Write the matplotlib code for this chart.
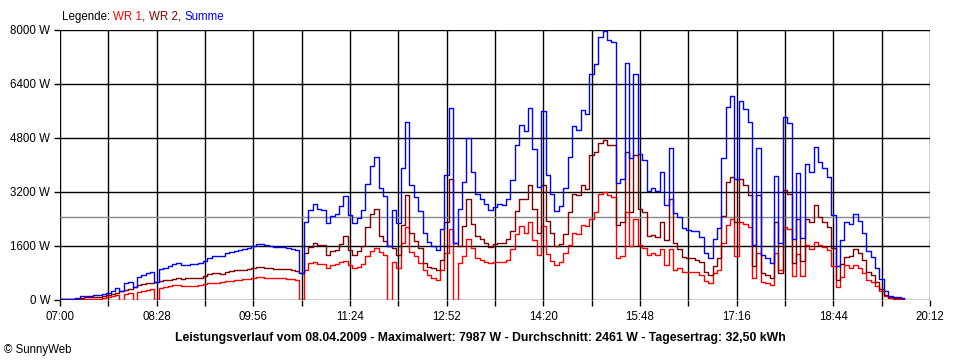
import numpy as np
import matplotlib
matplotlib.use("Agg")
import matplotlib.pyplot as plt

# minutes after 07:00, sampled every 4 minutes
start_min = 0
step_min = 4

wr1 = [20, 20, 20, 20, 20, 35, 40, 40, 40, 40,
       60, 80, 110, 150, 0, 190, 210, 0, 240, 280,
       300, 315, 0, 350, 375, 405, 430, 445, 405, 405,
       405, 420, 435, 470, 490, 500, 500, 520, 550, 565,
       580, 600, 615, 625, 640, 680, 670, 660, 650, 650,
       650, 640, 630, 620, 600, 0, 900, 1085, 1135, 1070,
       1060, 950, 1030, 1070, 1130, 1170, 1040, 940, 990, 1080,
       1290, 1440, 1530, 1420, 1330, 0, 1135, 950, 1680, 2170,
       1430, 1300, 1085, 890, 740, 660, 600, 900, 1400, 2100,
       0, 1085, 1300, 1800, 1550, 1235, 1185, 1135, 1100, 1120,
       1135, 1135, 1200, 1500, 1950, 2200, 2000, 2300, 1780, 1335,
       2200, 1350, 1150, 1040, 1135, 1380, 1630, 2000, 1950, 2220,
       2200, 2400, 2600, 3150, 3210, 3100, 3060, 1235, 1300, 2620,
       1600, 2400, 1630, 1550, 1335, 1385, 1335, 1500, 1040, 1500,
       890, 950, 840, 840, 820, 840, 740, 560, 500, 800,
       890, 1700, 2220, 2400, 1300, 2300, 2250, 2170, 640, 1400,
       540, 490, 445, 1380, 900, 2170, 2100, 700, 1350, 700,
       1630, 1500, 1730, 1630, 1580, 1480, 1000, 400, 690, 1040,
       950, 1040, 950, 790, 600, 530, 420, 280, 110, 50,
       40, 30, 20]

wr2 = [20, 20, 20, 20, 25, 70, 75, 85, 95, 100,
       120, 140, 165, 215, 260, 300, 330, 380, 440, 475,
       495, 515, 530, 575, 585, 600, 630, 650, 620, 640,
       650, 650, 665, 700, 765, 790, 790, 770, 830, 860,
       880, 880, 890, 915, 950, 980, 975, 960, 945, 925,
       920, 920, 915, 900, 870, 800, 1400, 1580, 1700, 1620,
       1620, 1330, 1460, 1480, 1660, 1900, 1480, 1330, 1450, 1600,
       2150, 2540, 2700, 1900, 1750, 1600, 1540, 1330, 2220, 3110,
       1980, 1750, 1550, 1100, 990, 940, 880, 1200, 2300, 3600,
       1700, 1600, 2200, 3000, 2250, 1900, 1800, 1700, 1580, 1650,
       1700, 1680, 1800, 2050, 2650, 3000, 3000, 3400, 2700, 2000,
       3400, 2350, 2000, 1600, 1650, 1950, 2620, 3150, 3100, 3400,
       3300, 4300, 4390, 4650, 4750, 4600, 4590, 2220, 2300, 4390,
       2600, 4300, 2700, 2600, 1900, 1925, 1880, 2300, 1780, 3000,
       1700, 1500, 1285, 1235, 1235, 1200, 1135, 840, 740, 1000,
       1235, 2500, 3505, 3650, 2300, 3600, 3400, 3100, 1000, 3100,
       790, 740, 640, 2300, 800, 3260, 3150, 1100, 2400, 1150,
       2400, 2300, 2815, 2470, 2320, 2170, 1530, 600, 1080, 1285,
       1300, 1500, 1400, 1185, 840, 740, 540, 340, 150, 80,
       60, 50, 30]

summe = [a + b for a, b in zip(wr1, wr2)]
minutes = start_min + step_min * np.arange(len(wr1))

y_ticks = [0, 1600, 3200, 4800, 6400, 8000]
x_tick_labels = ["07:00", "08:28", "09:56", "11:24", "12:52", "14:20",
                 "15:48", "17:16", "18:44", "20:12"]
average_w = 2461
title = ("Leistungsverlauf vom 08.04.2009 - Maximalwert: 7987 W - "
         "Durchschnitt: 2461 W - Tagesertrag: 32,50 kWh")

plt.rcParams['font.family'] = ['Liberation Sans', 'DejaVu Sans']

fig = plt.figure(figsize=(9.6, 3.6), dpi=100)
fig.patch.set_facecolor('white')
ax = fig.add_axes([60 / 960, 60 / 360, 870 / 960, 270 / 360])

total = 792
ax.set_xlim(0, total)
ax.set_ylim(0, 8000)

# grid
grid_x = np.arange(0, total + 1, 44)
for gx in grid_x:
    ax.axvline(gx, color='black', lw=1.0, zorder=1)
for gy in y_ticks:
    ax.axhline(gy, color='black', lw=1.0, zorder=1)
ax.axhline(average_w, color='#888888', lw=1.0, zorder=1)

ax.plot(minutes, wr1, color='#FF0000', lw=1.0, drawstyle='steps-mid', zorder=3)
ax.plot(minutes, wr2, color='#800000', lw=1.0, drawstyle='steps-mid', zorder=4)
ax.plot(minutes, summe, color='#0000FF', lw=1.0, drawstyle='steps-mid', zorder=5)

for s in ax.spines.values():
    s.set_visible(False)

ax.set_xticks(grid_x)
ax.set_xticklabels([x_tick_labels[i // 2] if i % 2 == 0 else ""
                    for i in range(len(grid_x))])
ax.set_yticks(y_ticks)
ax.set_yticklabels([f"{v} W" for v in y_ticks])
ax.tick_params(axis='both', length=4, width=1.0, color='black',
               labelsize=8.3, pad=3)
ax.tick_params(axis='x', pad=4)

# legend
ly = 1 - 17 / 360
renderer = fig.canvas.get_renderer()
legend_parts = [("Legende: ", '#000000'), ("WR 1", '#FF0000'), (", ", '#000000'),
                ("WR 2", '#800000'), (", ", '#000000'), ("Summe", '#0000FF')]
xpos = 62
for txt, col in legend_parts:
    tt = fig.text(xpos / 960, ly, txt, fontsize=8.3, color=col,
                  va='center', ha='left')
    xpos = tt.get_window_extent(renderer).x1

fig.text(480 / 960, 1 - 338 / 360, title, fontsize=8.8, fontweight='bold',
         ha='center', va='center')
fig.text(4 / 960, 1 - 350 / 360, "© SunnyWeb", fontsize=8.3, ha='left', va='center')

fig.savefig("out.png", dpi=100)
